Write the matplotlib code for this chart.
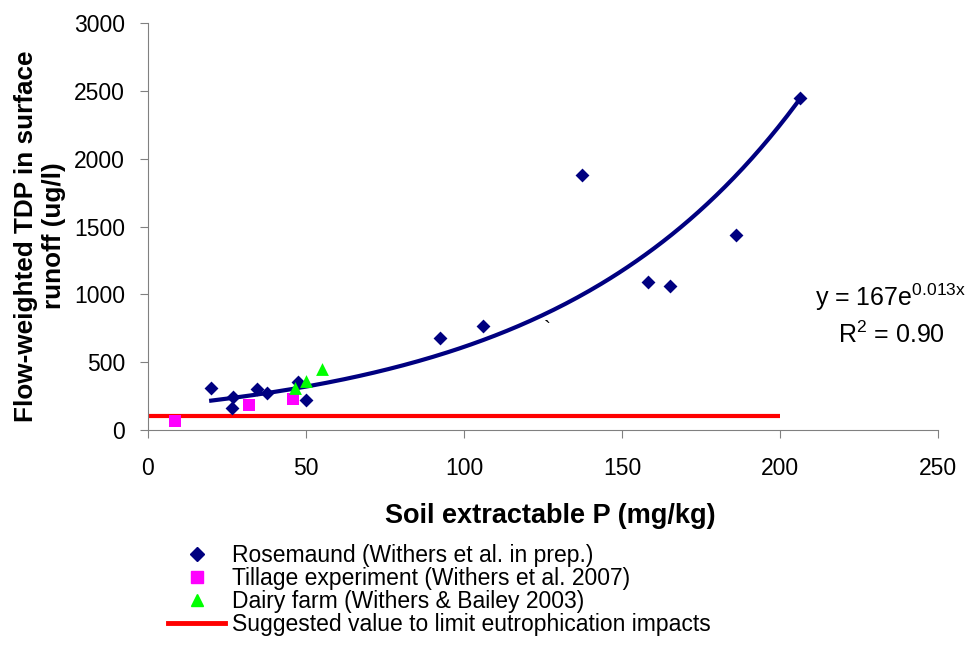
import numpy as np
import matplotlib
matplotlib.use("Agg")
import matplotlib.pyplot as plt
from matplotlib.lines import Line2D

plt.rcParams['font.family'] = ['Liberation Sans', 'DejaVu Sans']
plt.rcParams['mathtext.default'] = 'regular'

ros_x = [20, 27, 26.5, 34.6, 37.8, 47.4, 50, 92.4, 106, 137.3, 158.3, 165.3, 186.2, 206.3]
ros_y = [309, 245, 159, 299, 270, 351, 221, 677, 765, 1883, 1090, 1061, 1441, 2449]
till_x = [8.6, 31.9, 45.8]
till_y = [66, 184, 225]
dairy_x = [46.4, 50, 55]
dairy_y = [311, 360, 453]
limit_x = [0, 200]
limit_y = [100, 100]
trend_a, trend_b = 167, 0.013
trend_range = [20, 206]

W, H = 973, 646
fig = plt.figure(figsize=(W/100, H/100), dpi=100)
ax_l, ax_r, ax_t, ax_b = 148, 938, 23, 430
ax = fig.add_axes([ax_l/W, 1-ax_b/H, (ax_r-ax_l)/W, (ax_b-ax_t)/H])

xt = np.linspace(trend_range[0], trend_range[1], 200)
ax.plot(limit_x, limit_y, color='#ff0000', lw=3, solid_capstyle='butt', zorder=2)
ax.plot(xt, trend_a*np.exp(trend_b*xt), color='#000080', lw=3, zorder=3)
ax.scatter(ros_x, ros_y, marker='D', s=50, color='#000080', zorder=4, linewidths=0)
ax.scatter(till_x, till_y, marker='s', s=72, color='#ff00ff', zorder=4, linewidths=0)
ax.scatter(dairy_x, dairy_y, marker='^', s=85, color='#00ff00', zorder=5, linewidths=0)

ax.set_xlim(0, 250)
ax.set_ylim(0, 3000)
ax.set_xticks([0, 50, 100, 150, 200, 250])
ax.set_yticks(range(0, 3001, 500))
for s in ['top', 'right']:
    ax.spines[s].set_visible(False)
for s in ['left', 'bottom']:
    ax.spines[s].set_color('#808080')
ax.tick_params(direction='out', length=5.5, color='#808080', labelsize=16.5)
ax.tick_params(axis='x', pad=14)
ax.tick_params(axis='y', pad=11)

ax.set_xlabel('Soil extractable P (mg/kg)', fontsize=19.5, fontweight='bold')
ax.xaxis.set_label_coords((550-ax_l)/(ax_r-ax_l), (ax_b-516)/(ax_b-ax_t))
ax.xaxis.label.set_verticalalignment('center')
ax.set_ylabel('Flow-weighted TDP in surface\nrunoff (ug/l)', fontsize=18.8, fontweight='bold',
              linespacing=1.2)
ax.yaxis.set_label_coords((40-ax_l)/(ax_r-ax_l), (ax_b-236)/(ax_b-ax_t))
ax.yaxis.label.set_verticalalignment('center')

ax.text(126.5, 740, '`', fontsize=15, ha='center', va='center')
fig.text(815/W, 1-306/H, 'y = 167e$^{0.013x}$', fontsize=18, ha='left', va='baseline')
fig.text(838/W, 1-343/H, 'R$^{2}$ = 0.90', fontsize=18, ha='left', va='baseline')

handles = [
    Line2D([], [], ls='none', marker='D', color='#000080', markersize=7),
    Line2D([], [], ls='none', marker='s', color='#ff00ff', markersize=8),
    Line2D([], [], ls='none', marker='^', color='#00ff00', markersize=9),
    Line2D([], [], color='#ff0000', lw=3.5),
]
labels = ['Rosemaund (Withers et al. in prep.)', 'Tillage experiment (Withers et al. 2007)',
          'Dairy farm (Withers & Bailey 2003)', 'Suggested value to limit eutrophication impacts']
fig.legend(handles, labels, loc='upper left', bbox_to_anchor=(168/W, 1-544/H), frameon=False,
           fontsize=16.5, labelspacing=0.0, handlelength=2.5, handletextpad=0.28, borderpad=0,
           borderaxespad=0)

fig.savefig('out.png', dpi=100)
